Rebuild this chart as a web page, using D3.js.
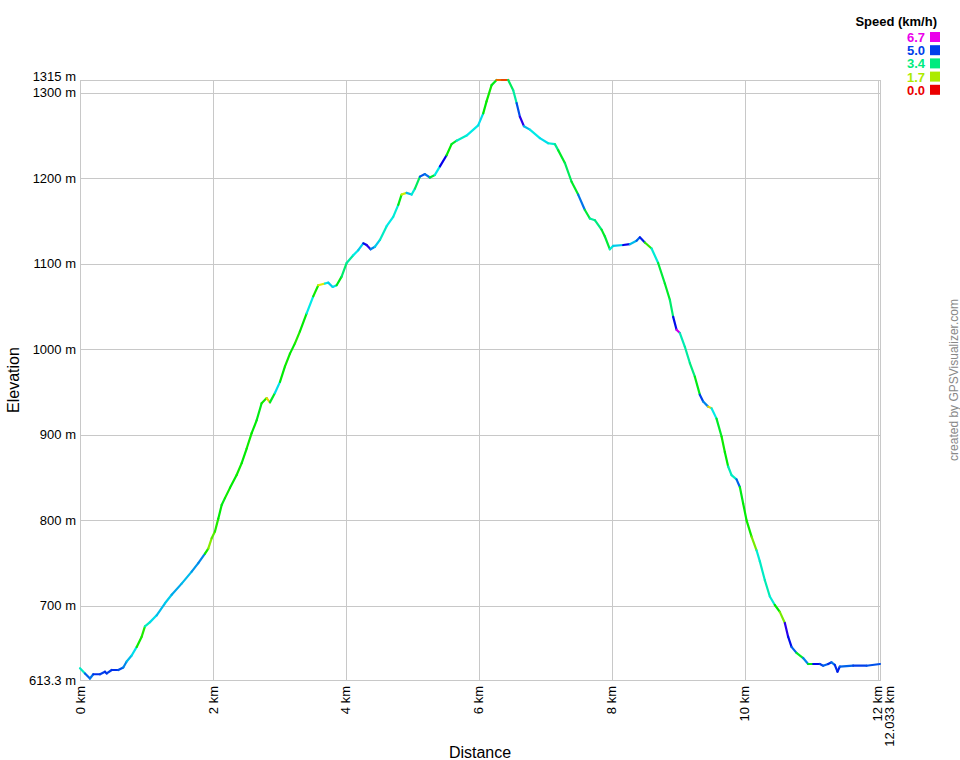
<!DOCTYPE html>
<html>
<head>
<meta charset="utf-8">
<script src="https://cdn.jsdelivr.net/npm/d3@7"></script>
<style>
  body { margin: 0; background: #fff; }
  text { font-family: "Liberation Sans", Arial, sans-serif; }
</style>
</head>
<body>
<div class="main"></div>
<script>

    // Track data: distance (km), elevation (m), speed (km/h)
    let distance = [
        0.000, 0.075, 0.150, 0.200, 0.301, 0.376, 0.402, 0.477, 0.576, 0.651,
        0.702, 0.777, 0.853, 0.928, 0.977, 1.053, 1.153, 1.278, 1.379, 1.529,
        1.680, 1.779, 1.880, 1.929, 1.980, 2.030, 2.080, 2.131, 2.180, 2.256,
        2.356, 2.432, 2.507, 2.582, 2.657, 2.732, 2.808, 2.857, 2.932, 3.008,
        3.083, 3.158, 3.233, 3.308, 3.409, 3.508, 3.584, 3.684, 3.734, 3.800,
        3.860, 3.935, 4.011, 4.110, 4.185, 4.261, 4.311, 4.371, 4.436, 4.511,
        4.612, 4.711, 4.787, 4.837, 4.912, 4.988, 5.038, 5.113, 5.188, 5.263,
        5.338, 5.414, 5.514, 5.589, 5.665, 5.815, 5.989, 6.065, 6.115, 6.191,
        6.266, 6.346, 6.441, 6.516, 6.567, 6.617, 6.677, 6.767, 6.917, 7.042,
        7.143, 7.192, 7.293, 7.394, 7.493, 7.594, 7.669, 7.744, 7.845, 7.895,
        7.970, 8.020, 8.170, 8.271, 8.371, 8.421, 8.496, 8.597, 8.696, 8.797,
        8.872, 8.922, 8.973, 9.023, 9.098, 9.173, 9.248, 9.323, 9.373, 9.448,
        9.499, 9.574, 9.650, 9.699, 9.749, 9.800, 9.875, 9.925, 9.974, 10.026,
        10.101, 10.176, 10.226, 10.301, 10.376, 10.451, 10.526, 10.602, 10.651, 10.702,
        10.777, 10.877, 10.952, 11.028, 11.128, 11.178, 11.253, 11.304, 11.353, 11.393,
        11.429, 11.629, 11.830, 12.033
    ];

    let elevation = [
        627, 621, 615, 620, 620, 623, 621, 625, 625, 628,
        635, 642, 652, 664, 676, 681, 689, 703, 713, 726,
        740, 750, 761, 767, 779, 787, 802, 818, 826, 838,
        853, 867, 884, 902, 917, 937, 943, 938, 949, 962,
        980, 995, 1007, 1021, 1042, 1062, 1075, 1077, 1078, 1073,
        1075, 1085, 1101, 1110, 1116, 1124, 1122, 1117, 1120, 1128,
        1144, 1155, 1169, 1181, 1183, 1181, 1188, 1202, 1205, 1201,
        1204, 1214, 1227, 1240, 1244, 1250, 1262, 1276, 1290, 1309,
        1315, 1315, 1315, 1303, 1288, 1272, 1261, 1257, 1247, 1241,
        1240, 1233, 1218, 1196, 1181, 1163, 1153, 1151, 1140, 1132,
        1117, 1121, 1122, 1123, 1127, 1131, 1125, 1118, 1101, 1077,
        1058, 1038, 1023, 1019, 1003, 984, 968, 947, 939, 933,
        931, 919, 898, 880, 863, 853, 848, 839, 820, 800,
        781, 765, 752, 730, 711, 701, 693, 680, 664, 652,
        645, 639, 632, 632, 632, 630, 632, 634, 631, 623,
        629, 630, 630, 632
    ];

    let speed = [
        3.8, 4.8, 4.7, 5.1, 5.0, 5.1, 5.0, 5.1, 4.9, 4.6,
        4.3, 4.1, 2.6, 2.5, 3.8, 4.1, 4.3, 4.2, 4.4, 4.3,
        4.5, 4.6, 2.6, 1.9, 2.2, 2.5, 2.7, 2.8, 2.6, 2.7,
        2.6, 2.7, 2.6, 2.7, 2.8, 2.6, 1.2, 2.9, 4.1, 2.7,
        2.6, 2.7, 2.5, 2.7, 4.0, 2.6, 1.4, 4.0, 4.2, 4.1,
        2.8, 3.3, 3.6, 4.0, 4.2, 5.3, 5.6, 4.6, 4.2, 3.8,
        4.0, 3.9, 2.8, 1.5, 4.3, 3.9, 3.2, 4.9, 4.7, 3.0,
        4.0, 5.4, 2.7, 2.9, 3.8, 4.0, 4.1, 2.7, 2.6, 2.8,
        0.6, 0.4, 3.2, 3.6, 4.9, 5.6, 4.3, 4.0, 4.1, 3.9,
        3.5, 2.9, 3.2, 2.9, 4.7, 3.0, 3.6, 3.4, 2.9, 3.0,
        3.9, 4.2, 5.4, 4.3, 4.8, 5.2, 2.4, 3.9, 3.0, 2.9,
        3.3, 5.3, 6.5, 3.7, 3.6, 3.4, 2.8, 5.0, 4.6, 1.2,
        4.0, 2.9, 2.6, 2.7, 3.7, 3.8, 4.8, 2.8, 2.7, 2.6,
        2.0, 3.9, 3.8, 3.7, 3.9, 2.7, 2.0, 5.6, 5.3, 4.8,
        2.9, 4.6, 2.8, 5.3, 5.0, 4.8, 5.1, 4.7, 5.1, 5.2,
        4.8, 5.0, 4.9, 4.0
    ];

    // Axis ticks
    let x_ticks = [0, 2, 4, 6, 8, 10, 12];
    let x_max = 12.033;
    let y_ticks = [700, 800, 900, 1000, 1100, 1200, 1300];
    let y_min = 613.3, y_max = 1315;

    // Legend entries (top to bottom)
    let legend_values = [6.7, 5.0, 3.4, 1.7, 0.0];

    let width = 960, height = 760;
    let svg = d3.select("body").select("div.main").append("svg")
        .attr("width", width)
        .attr("height", height)
        ;

    // Plot box
    let plot_left = 80, plot_right = 880, plot_top = 80, plot_bottom = 680;

    let x = d3.scaleLinear().domain([0, x_max]).range([plot_left, plot_right]);
    let y = d3.scaleLinear().domain([y_min, y_max]).range([plot_bottom, plot_top]);

    // Speed colours go round the hue wheel, red (0) to magenta (6.7)
    let hue = d3.scaleLinear().domain([0, 6.7]).range([0, 300]).clamp(true);
    function speed_color(s) { return d3.hsl(hue(s), 1, 0.46).formatHex(); }

    let grid_color = "#c8c8c8";

    // Vertical grid lines (ticks plus the end of the track)
    let g_grid = svg.append("g");
    x_ticks.concat([x_max]).forEach(function(v) {
        g_grid.append("line")
            .attr("x1", Math.round(x(v)) + 0.5).attr("x2", Math.round(x(v)) + 0.5)
            .attr("y1", plot_top).attr("y2", plot_bottom)
            .attr("stroke", grid_color)
            ;
    });
    // Horizontal grid lines (ticks plus min/max)
    [y_min].concat(y_ticks, [y_max]).forEach(function(v) {
        g_grid.append("line")
            .attr("x1", plot_left).attr("x2", plot_right + 1)
            .attr("y1", Math.round(y(v)) + 0.5).attr("y2", Math.round(y(v)) + 0.5)
            .attr("stroke", grid_color)
            ;
    });

    // Y labels; the top two sit close, so keep them apart
    let y_labels = [{v: y_min, t: "613.3 m", dy: 4.5}, {v: y_max, t: "1315 m", dy: 1}];
    y_ticks.forEach(function(v) { y_labels.push({v: v, t: v + " m", dy: v == 1300 ? 4 : 4.5}); });
    y_labels.forEach(function(d) {
        svg.append("text")
            .attr("x", plot_left - 4)
            .attr("y", y(d.v) + d.dy)
            .attr("text-anchor", "end")
            .attr("font-size", 13)
            .attr("fill", "#000")
            .text(d.t)
            ;
    });

    // X labels, rotated
    let x_labels = x_ticks.map(function(v) { return {v: v, t: v + " km", off: 0}; });
    x_labels.push({v: x_max, t: x_max + " km", off: 9});
    x_labels.forEach(function(d) {
        let px = x(d.v) + d.off, py = plot_bottom + 6;
        svg.append("text")
            .attr("transform", "translate(" + px + "," + py + ") rotate(-90)")
            .attr("dy", "0.35em")
            .attr("text-anchor", "end")
            .attr("font-size", 13)
            .attr("fill", "#000")
            .text(d.t)
            ;
    });

    // Axis titles
    svg.append("text")
        .attr("transform", "translate(19," + ((plot_top + plot_bottom) / 2) + ") rotate(-90)")
        .attr("text-anchor", "middle")
        .attr("font-size", 16)
        .text("Elevation")
        ;
    svg.append("text")
        .attr("x", (plot_left + plot_right) / 2)
        .attr("y", 758)
        .attr("text-anchor", "middle")
        .attr("font-size", 16)
        .text("Distance")
        ;

    // Credit line
    svg.append("text")
        .attr("transform", "translate(958," + ((plot_top + plot_bottom) / 2) + ") rotate(-90)")
        .attr("text-anchor", "middle")
        .attr("font-size", 12)
        .attr("fill", "#888")
        .text("created by GPSVisualizer.com")
        ;

    // The track, one segment per point, coloured by speed
    let g_track = svg.append("g");
    for (let i = 0; i < distance.length - 1; i++) {
        g_track.append("line")
            .attr("x1", x(distance[i])).attr("y1", y(elevation[i]))
            .attr("x2", x(distance[i + 1])).attr("y2", y(elevation[i + 1]))
            .attr("stroke", speed_color(speed[i]))
            .attr("stroke-width", 2.2)
            .attr("stroke-linecap", "round")
            ;
    }

    // Legend
    svg.append("text")
        .attr("x", 937)
        .attr("y", 26)
        .attr("text-anchor", "end")
        .attr("font-size", 13)
        .attr("font-weight", "bold")
        .text("Speed (km/h)")
        ;
    legend_values.forEach(function(v, i) {
        let ly = 32 + i * 13.2;
        svg.append("rect")
            .attr("x", 930).attr("y", ly)
            .attr("width", 10).attr("height", 10)
            .attr("fill", speed_color(v))
            ;
        svg.append("text")
            .attr("x", 925)
            .attr("y", ly + 10)
            .attr("text-anchor", "end")
            .attr("font-size", 13)
            .attr("font-weight", "bold")
            .attr("fill", speed_color(v))
            .text(v.toFixed(1))
            ;
    });

</script>
</body>
</html>
